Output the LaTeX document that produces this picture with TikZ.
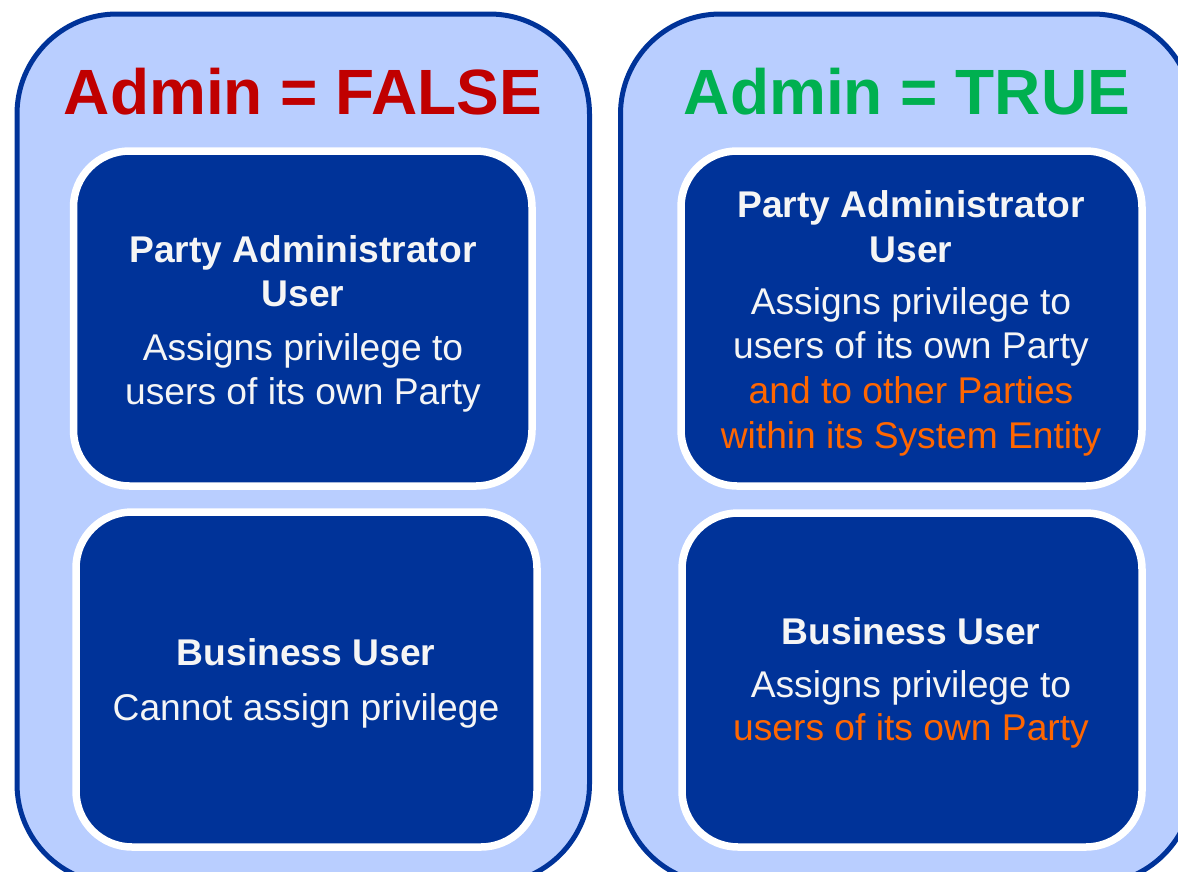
\documentclass[tikz,border=0pt]{standalone}
\usepackage{fontspec}
\setmainfont{Liberation Sans}
\definecolor{dkblue}{RGB}{0,51,153}
\definecolor{ltblue}{RGB}{185,206,255}
\definecolor{fred}{RGB}{192,0,0}
\definecolor{tgreen}{RGB}{0,176,80}
\definecolor{orng}{RGB}{255,102,0}
\definecolor{txtw}{RGB}{245,245,245}
\begin{document}
\begin{tikzpicture}[x=1pt,y=-1pt,
  outerbox/.style={draw=dkblue, line width=5pt, fill=ltblue, rounded corners=100pt},
  innerbox/.style={draw=white, line width=7.5pt, fill=dkblue, rounded corners=56pt},
  title/.style={anchor=base, inner sep=0pt, font=\fontsize{64}{70}\selectfont\bfseries},
  head/.style={anchor=base, inner sep=0pt, text=txtw, font=\fontsize{37.2}{44}\selectfont\bfseries},
  body/.style={anchor=base, inner sep=0pt, text=txtw, font=\fontsize{37.2}{44}\selectfont},
  hl/.style={body, text=orng}]
\useasboundingbox (0,0) rectangle (1178,871);
\clip (0,0) rectangle (1178,871);
% outer panels
\draw[outerbox] (17,14) rectangle (589.5,884);
\draw[outerbox] (620.5,14) rectangle (1193,884);
% inner boxes
\draw[innerbox] (73.5,151) rectangle (532,486);
\draw[innerbox] (76,512) rectangle (537,847);
\draw[innerbox] (681,151) rectangle (1142,486);
\draw[innerbox] (682,513) rectangle (1142,847);
% titles
\node[title, text=fred] (tfalse) at (303,114) {Admin = FALSE};
\node[title, text=tgreen] (ttrue) at (907,114) {Admin = TRUE};
% left top
\node[head] (la1) at (303,262) {Party Administrator};
\node[head] (la2) at (303,306) {User};
\node[body] (la3) at (303,360) {Assigns privilege to};
\node[body] (la4) at (303,404) {users of its own Party};
% left bottom
\node[head] (lb1) at (306,665) {Business User};
\node[body] (lb2) at (306,720) {Cannot assign privilege};
% right top
\node[head] (ra1) at (911,217) {Party Administrator};
\node[head] (ra2) at (911,262) {User};
\node[body] (ra3) at (911,314) {Assigns privilege to};
\node[body] (ra4) at (911,358) {users of its own Party};
\node[hl] (ra5) at (911,403) {and to other Parties};
\node[hl] (ra6) at (911,448) {within its System Entity};
% right bottom
\node[head] (rb1) at (911,644) {Business User};
\node[body] (rb2) at (911,697) {Assigns privilege to};
\node[hl] (rb3) at (911,740) {users of its own Party};
\end{tikzpicture}
\end{document}
